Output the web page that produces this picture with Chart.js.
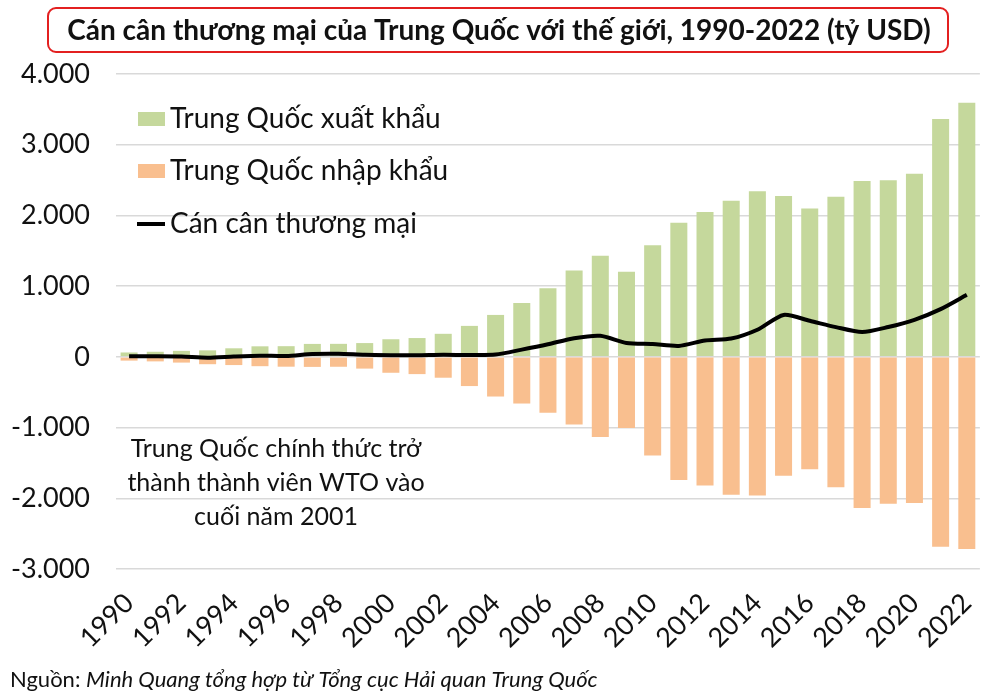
<!DOCTYPE html>
<html>
<head>
<meta charset="utf-8">
<script src="https://cdn.jsdelivr.net/npm/chart.js@4/dist/chart.umd.min.js"></script>
<style>
  html, body { margin: 0; padding: 0; background: #fff; }
  #wrap { width: 1000px; height: 700px; position: relative; }
</style>
</head>
<body>
<div id="wrap"><canvas id="myCanvas" width="1000" height="700"></canvas></div>
<script>
const FONT = "Lato, 'Open Sans', sans-serif";

// du lieu (ty USD)
var nam = [];
for (var y = 1990; y <= 2022; y++) nam.push(String(y));

var xuat_khau = [62, 72, 85, 92, 121, 149, 151, 183, 184, 195, 249, 266, 326, 438, 593,
    762, 969, 1220, 1430, 1202, 1578, 1898, 2049, 2209, 2342, 2273, 2098, 2263, 2487, 2499, 2590, 3362, 3594];
var nhap_khau = [-53, -64, -81, -104, -116, -132, -139, -142, -140, -166, -225, -244, -295, -413, -561,
    -660, -791, -956, -1133, -1006, -1396, -1743, -1818, -1950, -1959, -1680, -1588, -1843, -2136, -2077, -2066, -2687, -2716];
var can_can = [9, 8, 4, -12, 5, 17, 12, 40, 44, 29, 24, 23, 30, 26, 32,
    102, 178, 264, 298, 196, 182, 155, 231, 259, 383, 593, 510, 420, 351, 422, 524, 675, 877];

var y_ticks = [4000, 3000, 2000, 1000, 0, -1000, -2000, -3000];

const MAU_XUAT = "#C5D89C";
const MAU_NHAP = "#F9BF8F";

function fmt(v){
    var s = Math.abs(v).toString().replace(/\B(?=(\d{3})+(?!\d))/g, ".");
    return (v < 0 ? "-" : "") + s;
}

// ve tieu de, chu thich, ghi chu, nguon
var trang_tri = {
    id: "trang_tri",
    afterDraw: function(chart){
        var ctx = chart.ctx;
        ctx.save();
        // khung tieu de
        ctx.beginPath();
        ctx.roundRect(48, 8, 900, 44, 8);
        ctx.fillStyle = "#fff";
        ctx.fill();
        ctx.lineWidth = 2;
        ctx.strokeStyle = "#E32020";
        ctx.stroke();
        ctx.fillStyle = "#111";
        ctx.font = "bold 28px " + FONT;
        ctx.textAlign = "center";
        ctx.textBaseline = "middle";
        ctx.fillText("Cán cân thương mại của Trung Quốc với thế giới, 1990-2022 (tỷ USD)", 499, 31);

        // chu thich
        ctx.textAlign = "left";
        ctx.font = "28px " + FONT;
        ctx.fillStyle = MAU_XUAT;
        ctx.fillRect(138, 112, 27, 14);
        ctx.fillStyle = MAU_NHAP;
        ctx.fillRect(138, 164, 27, 14);
        ctx.strokeStyle = "#000";
        ctx.lineWidth = 4;
        ctx.beginPath();
        ctx.moveTo(137, 224);
        ctx.lineTo(165, 224);
        ctx.stroke();
        ctx.fillStyle = "#111";
        ctx.fillText(chart.data.datasets[0].label, 170, 119);
        ctx.fillText(chart.data.datasets[1].label, 170, 171);
        ctx.fillText(chart.data.datasets[2].label, 170, 224);

        // ghi chu WTO
        ctx.textAlign = "center";
        ctx.font = "25px " + FONT;
        ctx.fillText("Trung Quốc chính thức trở", 276, 449);
        ctx.fillText("thành thành viên WTO vào", 276, 483);
        ctx.fillText("cuối năm 2001", 276, 517);

        // nguon
        ctx.textAlign = "left";
        ctx.font = "22px " + FONT;
        ctx.fillStyle = "#111";
        ctx.fillText("Nguồn: ", 10, 680);
        var w = ctx.measureText("Nguồn: ").width;
        ctx.font = "italic 22px " + FONT;
        ctx.fillText("Minh Quang tổng hợp từ Tổng cục Hải quan Trung Quốc", 10 + w, 680);
        ctx.restore();
    }
};

var ctx = document.getElementById("myCanvas").getContext("2d");
var chart = new Chart(ctx, {
    data: {
        labels: nam,
        datasets: [{
            type: "bar",
            label: "Trung Quốc xuất khẩu",
            data: xuat_khau,
            backgroundColor: MAU_XUAT,
            stack: "tm",
            barPercentage: 0.65,
            categoryPercentage: 1,
            order: 2
        }, {
            type: "bar",
            label: "Trung Quốc nhập khẩu",
            data: nhap_khau,
            backgroundColor: MAU_NHAP,
            stack: "tm",
            barPercentage: 0.65,
            categoryPercentage: 1,
            order: 2
        }, {
            type: "line",
            label: "Cán cân thương mại",
            data: can_can,
            borderColor: "#000",
            borderWidth: 4,
            pointRadius: 0,
            tension: 0.25,
            stack: "cc",
            order: 1
        }]
    },
    options: {
        responsive: false,
        animation: false,
        layout: { padding: { top: 74, left: 0, right: 19, bottom: 0 } },
        plugins: {
            legend: { display: false },
            tooltip: { enabled: false }
        },
        scales: {
            x: {
                stacked: true,
                grid: { display: false },
                border: { display: false },
                ticks: {
                    autoSkip: false,
                    maxRotation: 45,
                    minRotation: 45,
                    padding: 10,
                    color: "#111",
                    font: { family: FONT, size: 27 },
                    callback: function(v, i){ return i % 2 == 0 ? nam[i] : ""; }
                },
                afterFit: function(s){ s.height = 131; }
            },
            y: {
                stacked: true,
                min: -3000,
                max: 4000,
                afterBuildTicks: function(s){ s.ticks = y_ticks.map(function(v){ return { value: v }; }); },
                grid: { color: "#D9D9D9", lineWidth: 1.5, drawTicks: false },
                border: { display: false },
                ticks: {
                    padding: 26,
                    color: "#111",
                    font: { family: FONT, size: 27 },
                    callback: function(v){ return fmt(v); }
                },
                afterFit: function(s){ s.width = 116; }
            }
        }
    },
    plugins: [trang_tri]
});
</script>
</body>
</html>
